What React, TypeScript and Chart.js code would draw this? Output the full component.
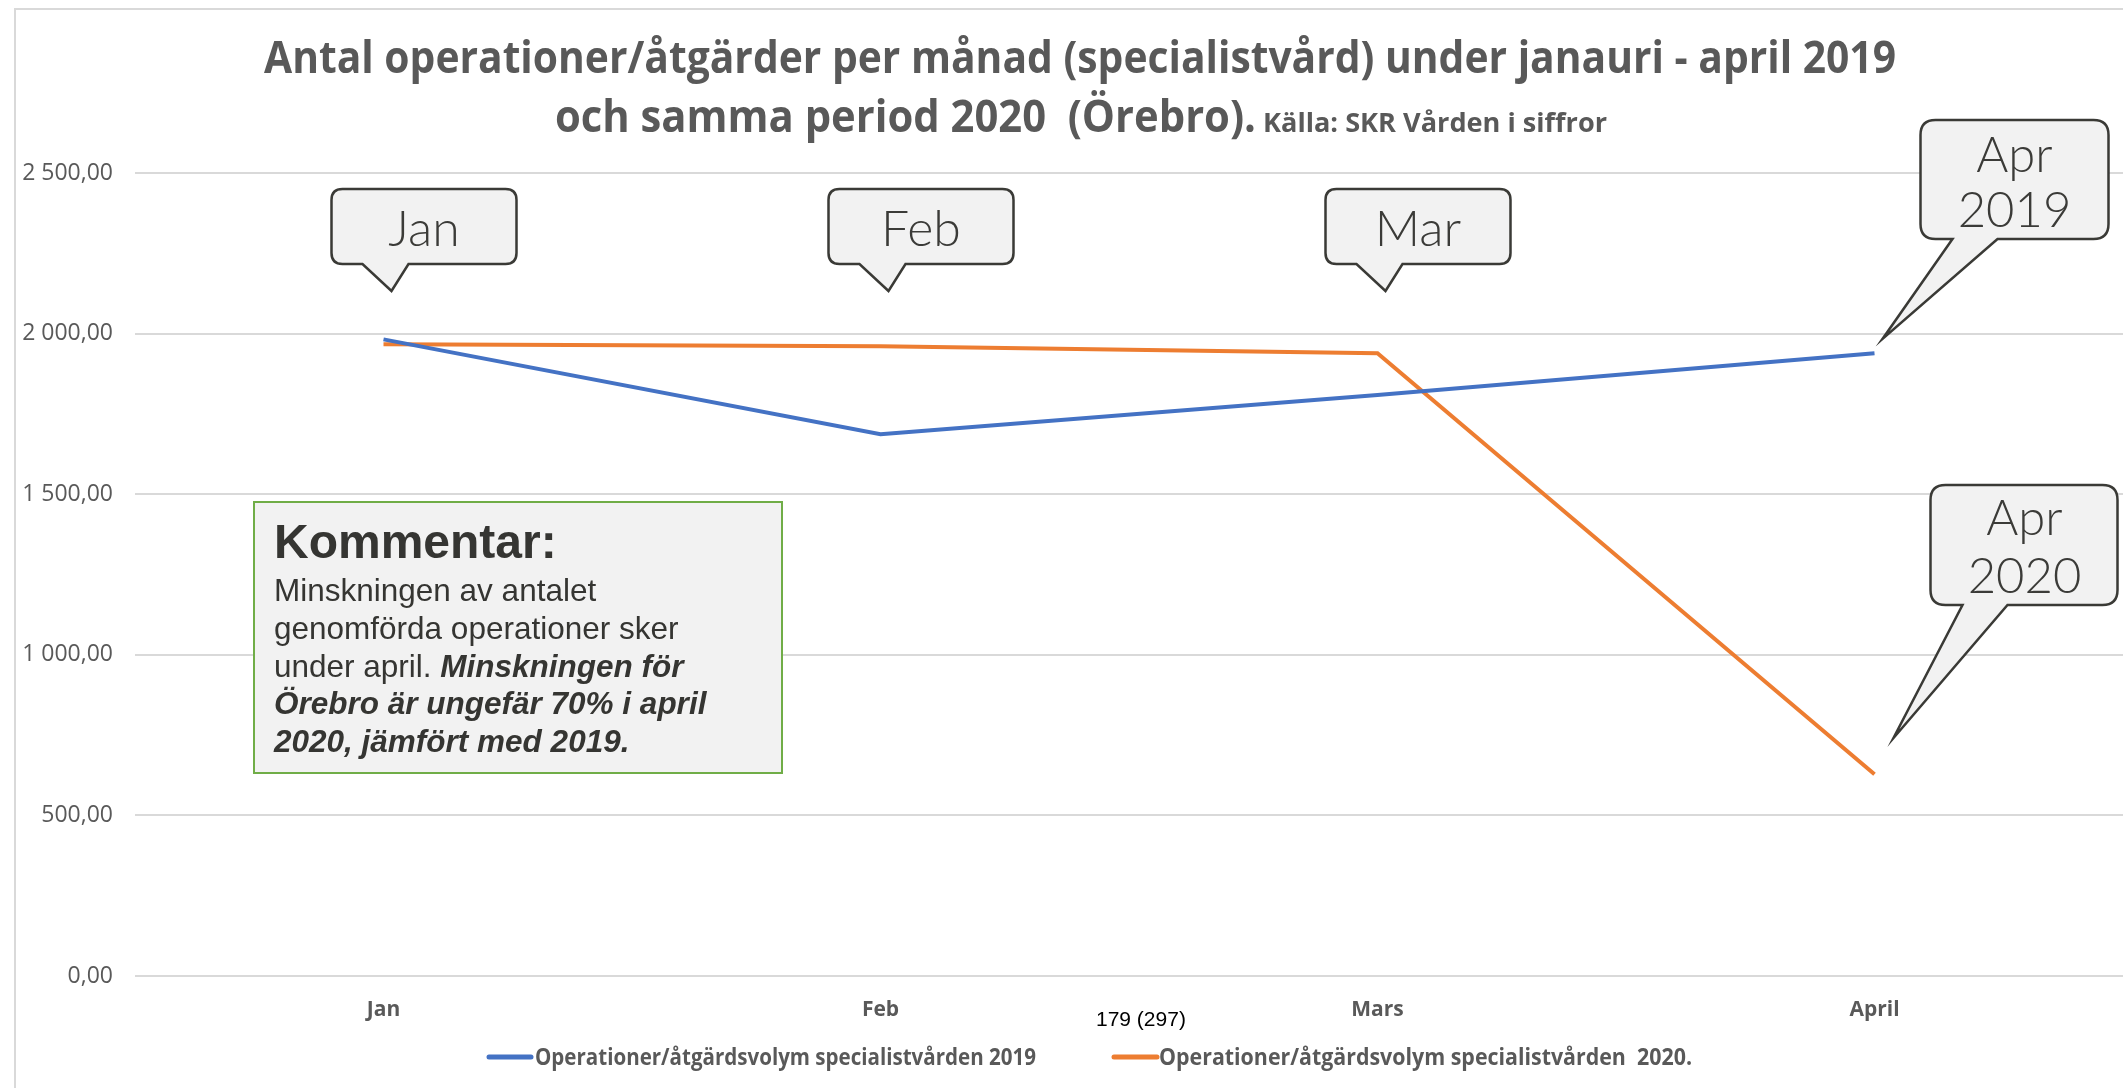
import React, { useEffect, useRef } from "react";
import { Chart, registerables } from "chart.js";

Chart.register(...registerables);

const W = 2123;
const H = 1088;

// ---------- data ----------
const months = ["Jan", "Feb", "Mars", "April"];
const series2019 = [1982, 1687, 1809, 1939];
const series2020 = [1967, 1961, 1939, 628];
const label2019 = "Operationer/åtgärdsvolym specialistvården 2019";
const label2020 = "Operationer/åtgärdsvolym specialistvården  2020.";
const color2019 = "#4472C4";
const color2020 = "#ED7D31";
const yTicks = [0, 500, 1000, 1500, 2000, 2500];

// ---------- texts ----------
const titleLine1 = "Antal operationer/åtgärder per månad (specialistvård) under janauri - april 2019";
const titleLine2 = "och samma period 2020  (Örebro).";
const titleSource = "Källa: SKR Vården i siffror";
const monthCallouts = ["Jan", "Feb", "Mar"];
const aprCallout2019 = ["Apr", "2019"];
const aprCallout2020 = ["Apr", "2020"];
const pageNote = "179 (297)";
const commentHeading = "Kommentar:";
type Seg = { t: string; bi?: boolean };
const commentLines: Seg[][] = [
  [{ t: "Minskningen av antalet" }],
  [{ t: "genomförda operationer sker" }],
  [{ t: "under april. " }, { t: "Minskningen för", bi: true }],
  [{ t: "Örebro är ungefär 70% i april", bi: true }],
  [{ t: "2020, jämfört med 2019.", bi: true }],
];

const fmtTick = (v: number) => {
  const s = Math.round(v).toString().replace(/\B(?=(\d{3})+(?!\d))/g, " ");
  return s + ",00";
};

const TITLE_FONT = "'Open Sans', 'Liberation Sans', sans-serif";
const CALLOUT_FONT = "Lato, 'Open Sans', sans-serif";
const ARIAL = "'Liberation Sans', Arial, sans-serif";

function fitText(
  ctx: CanvasRenderingContext2D,
  text: string,
  x: number,
  y: number,
  targetW: number,
  align: CanvasTextAlign
) {
  const w = ctx.measureText(text).width;
  const s = targetW / w;
  ctx.save();
  ctx.translate(x, y);
  ctx.scale(s, 1);
  ctx.textAlign = align;
  ctx.fillText(text, 0, 0);
  ctx.restore();
}

function callout(
  ctx: CanvasRenderingContext2D,
  l: number,
  t: number,
  r: number,
  b: number,
  tb1: number,
  tb2: number,
  tipX: number,
  tipY: number,
  rad: number
) {
  ctx.beginPath();
  ctx.moveTo(l + rad, t);
  ctx.lineTo(r - rad, t);
  ctx.quadraticCurveTo(r, t, r, t + rad);
  ctx.lineTo(r, b - rad);
  ctx.quadraticCurveTo(r, b, r - rad, b);
  ctx.lineTo(tb2, b);
  ctx.lineTo(tipX, tipY);
  ctx.lineTo(tb1, b);
  ctx.lineTo(l + rad, b);
  ctx.quadraticCurveTo(l, b, l, b - rad);
  ctx.lineTo(l, t + rad);
  ctx.quadraticCurveTo(l, t, l + rad, t);
  ctx.closePath();
  ctx.fillStyle = "#F2F2F2";
  ctx.fill();
  ctx.lineWidth = 2.5;
  ctx.strokeStyle = "#3A3A36";
  ctx.lineJoin = "miter";
  ctx.stroke();
}

const decorPlugin = {
  id: "decor",
  beforeDraw(chart: any) {
    const ctx: CanvasRenderingContext2D = chart.ctx;
    ctx.save();
    ctx.fillStyle = "#FFFFFF";
    ctx.fillRect(0, 0, W, H);
    ctx.strokeStyle = "#D9D9D9";
    ctx.lineWidth = 2;
    ctx.beginPath();
    ctx.moveTo(15, H);
    ctx.lineTo(15, 9);
    ctx.lineTo(W, 9);
    ctx.stroke();
    ctx.restore();
  },
  afterDraw(chart: any) {
    const ctx: CanvasRenderingContext2D = chart.ctx;
    const xs = chart.scales.x;
    ctx.save();

    // Title
    ctx.fillStyle = "#595959";
    ctx.textBaseline = "alphabetic";
    ctx.font = `bold 44px ${TITLE_FONT}`;
    fitText(ctx, titleLine1, 264, 73, 1632, "left");
    fitText(ctx, titleLine2, 555, 132, 701, "left");
    ctx.font = `bold 27px ${TITLE_FONT}`;
    fitText(ctx, titleSource, 1263, 132, 344, "left");

    // Month callouts
    monthCallouts.forEach((txt, i) => {
      const px = xs.getPixelForValue(i);
      callout(ctx, px - 52, 189, px + 133, 264, px - 21, px + 25, px + 8, 291, 11);
      ctx.fillStyle = "#3B3B38";
      ctx.font = `300 50px ${CALLOUT_FONT}`;
      ctx.textAlign = "center";
      ctx.fillText(txt, px + 40.5, 246);
    });

    // April callouts
    const pa = xs.getPixelForValue(3);
    callout(ctx, pa + 46, 120, pa + 234, 239, pa + 78, pa + 123, pa + 8, 339, 15);
    ctx.fillStyle = "#3B3B38";
    ctx.font = `300 49px ${CALLOUT_FONT}`;
    ctx.textAlign = "center";
    ctx.fillText(aprCallout2019[0], pa + 140, 172);
    ctx.fillText(aprCallout2019[1], pa + 140, 227);

    callout(ctx, pa + 56, 485, pa + 243, 605, pa + 88, pa + 133, pa + 19, 738, 15);
    ctx.fillStyle = "#3B3B38";
    ctx.font = `300 49px ${CALLOUT_FONT}`;
    ctx.fillText(aprCallout2020[0], pa + 150, 535);
    ctx.fillText(aprCallout2020[1], pa + 150, 593);

    // Comment box
    ctx.fillStyle = "#F2F2F2";
    ctx.fillRect(254, 502, 528, 271);
    ctx.strokeStyle = "#70AD47";
    ctx.lineWidth = 2;
    ctx.strokeRect(254, 502, 528, 271);
    ctx.fillStyle = "#353532";
    ctx.textAlign = "left";
    ctx.font = `bold 48px ${ARIAL}`;
    ctx.fillText(commentHeading, 274, 558);
    commentLines.forEach((segs, i) => {
      let x = 274;
      const y = 601 + 37.8 * i;
      segs.forEach((sg) => {
        ctx.font = sg.bi ? `italic bold 31.5px ${ARIAL}` : `31.5px ${ARIAL}`;
        ctx.fillText(sg.t, x, y);
        x += ctx.measureText(sg.t).width;
      });
    });

    // Page note
    ctx.fillStyle = "#000000";
    ctx.font = `21px ${ARIAL}`;
    ctx.fillText(pageNote, 1096, 1026);

    // Legend
    const legendPos = [
      { lx1: 489, lx2: 531, tx: 535, tw: 501 },
      { lx1: 1114, lx2: 1157, tx: 1159, tw: 533 },
    ];
    chart.data.datasets.forEach((ds: any, i: number) => {
      const p = legendPos[i];
      ctx.strokeStyle = ds.borderColor;
      ctx.lineWidth = 5;
      ctx.lineCap = "round";
      ctx.beginPath();
      ctx.moveTo(p.lx1, 1057);
      ctx.lineTo(p.lx2, 1057);
      ctx.stroke();
      ctx.fillStyle = "#595959";
      ctx.font = `bold 23px ${TITLE_FONT}`;
      fitText(ctx, ds.label, p.tx, 1065, p.tw, "left");
    });

    ctx.restore();
  },
};

export default function App() {
  const ref = useRef<HTMLCanvasElement | null>(null);

  useEffect(() => {
    if (!ref.current) return;
    const chart = new Chart(ref.current, {
      type: "line",
      data: {
        labels: months,
        datasets: [
          {
            label: label2019,
            data: series2019,
            borderColor: color2019,
            backgroundColor: color2019,
            borderWidth: 4,
            pointRadius: 0,
            tension: 0,
          },
          {
            label: label2020,
            data: series2020,
            borderColor: color2020,
            backgroundColor: color2020,
            borderWidth: 4,
            pointRadius: 0,
            tension: 0,
          },
        ],
      },
      options: {
        responsive: false,
        animation: false,
        devicePixelRatio: 1,
        layout: { padding: { top: 173, left: 0, right: 0, bottom: 0 } },
        plugins: {
          legend: { display: false },
          title: { display: false },
          tooltip: { enabled: false },
        },
        scales: {
          x: {
            type: "category",
            offset: true,
            grid: { display: false, drawTicks: false },
            border: { display: false },
            ticks: {
              color: "#595959",
              font: { family: "'Open Sans', sans-serif", size: 21, weight: "bold" },
              padding: 21,
              maxRotation: 0,
            },
            afterFit: (s: any) => {
              s.height = 112;
            },
          },
          y: {
            min: 0,
            max: 2500,
            afterBuildTicks: (s: any) => {
              s.ticks = yTicks.map((v) => ({ value: v }));
            },
            ticks: {
              padding: 22,
              color: "#595959",
              font: { family: "'Open Sans', sans-serif", size: 23 },
              callback: (v: any) => fmtTick(Number(v)),
            },
            grid: { color: "#D9D9D9", lineWidth: 2, drawTicks: false },
            border: { display: false },
            afterFit: (s: any) => {
              s.width = 135;
            },
          },
        },
      } as any,
      plugins: [decorPlugin],
    });
    return () => chart.destroy();
  }, []);

  return (
    <div style={{ position: "absolute", left: 0, top: 0, width: W, height: H, background: "#fff" }}>
      <canvas ref={ref} width={W} height={H} style={{ display: "block", width: W, height: H }} />
    </div>
  );
}
